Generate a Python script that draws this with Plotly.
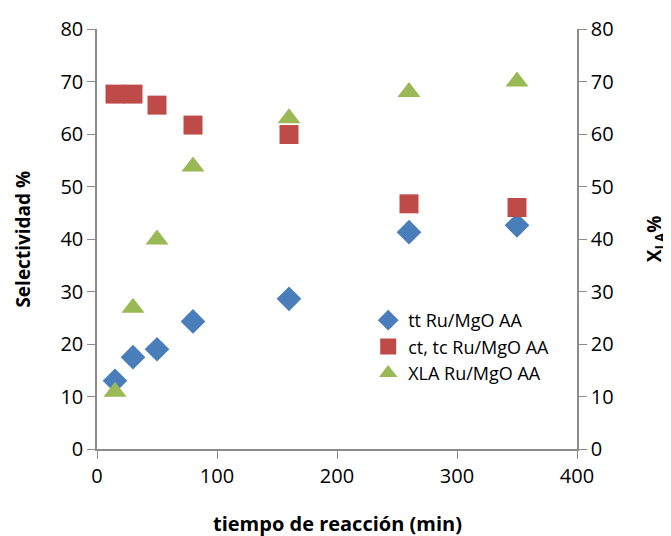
import plotly.graph_objects as go

tiempo = [15, 30, 50, 80, 160, 260, 350]
tt = [13.0, 17.5, 19.0, 24.3, 28.6, 41.3, 42.6]
ct_tc = [67.6, 67.6, 65.5, 61.7, 59.9, 46.7, 46.0]
xla = [10.9, 26.9, 39.9, 53.8, 63.0, 68.0, 70.0]

names = ["tt Ru/MgO AA", "ct, tc Ru/MgO AA", "XLA Ru/MgO AA"]
font = "Open Sans"
axcol = "#8c8c8c"

fig = go.Figure()
fig.add_trace(go.Scatter(x=tiempo, y=tt, mode="markers", name=names[0],
                         marker=dict(symbol="diamond", size=19, color="#4a7ebb")))
fig.add_trace(go.Scatter(x=tiempo, y=ct_tc, mode="markers", name=names[1],
                         marker=dict(symbol="square", size=19, color="#be4b48")))
fig.add_trace(go.Scatter(x=tiempo, y=xla, mode="markers", name=names[2], yaxis="y2",
                         marker=dict(symbol="triangle-up", size=20, color="#98b954")))

axis_common = dict(showgrid=False, zeroline=False, showline=True, linecolor=axcol,
                   linewidth=1.5, ticks="outside", ticklen=8, tickcolor=axcol,
                   automargin=False,
                   tickfont=dict(family=font, size=20, color="#000"))

title_font = dict(family=font, size=19, color="#000")

# page body has an 8px default margin, so the figure is sized/placed to compensate
fig.update_layout(
    width=663, height=528,
    margin=dict(l=89, r=94, t=21, b=87),
    paper_bgcolor="white", plot_bgcolor="white",
    showlegend=True,
    legend=dict(x=0.565, y=0.35, xanchor="left", yanchor="top",
                font=dict(family=font, size=18, color="#000"),
                bgcolor="rgba(0,0,0,0)", itemwidth=30, tracegroupgap=6),
    xaxis=dict(range=[0, 400], dtick=100, **axis_common),
    yaxis=dict(range=[0, 80], dtick=10, **axis_common),
    yaxis2=dict(range=[0, 80], dtick=10, overlaying="y", side="right", **axis_common),
    annotations=[
        dict(text="<b>tiempo de reacción (min)</b>", xref="paper", yref="paper",
             x=0.5, y=-0.178, xanchor="center", yanchor="middle", showarrow=False,
             font=dict(family=font, size=20, color="#000")),
        dict(text="<b>Selectividad %</b>", xref="paper", yref="paper",
             x=-0.155, y=0.5, xanchor="center", yanchor="middle", showarrow=False,
             textangle=-90, font=title_font),
        dict(text="<b>X<sub>LA</sub>%</b>", xref="paper", yref="paper",
             x=1.163, y=0.5, xanchor="center", yanchor="middle", showarrow=False,
             textangle=-90, font=title_font),
    ],
)

fig.write_html("out.html")
